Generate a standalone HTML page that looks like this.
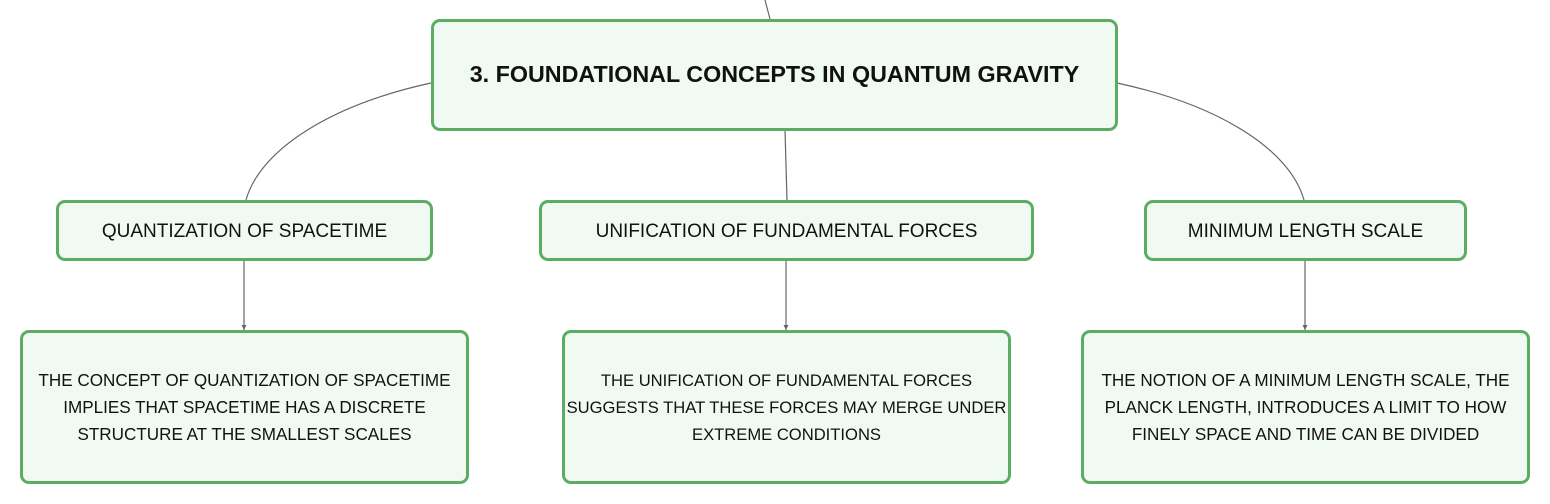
<!DOCTYPE html>
<html><head><style>
body{margin:0;width:1550px;height:504px;background:#fff;position:relative;overflow:hidden;font-family:"Liberation Sans",sans-serif;color:#111}
.b{position:absolute;box-sizing:border-box;border:3px solid #5cad62;border-radius:9px;background:#f1f9f3;display:flex;align-items:center;justify-content:center;text-align:center}
.t{font-weight:bold;font-size:23.3px}
.m{font-size:19px;padding-top:2px}
.d{font-size:17.1px;line-height:27px;white-space:nowrap}
svg{position:absolute;left:0;top:0}
</style></head><body>
<svg width="1550" height="504"><g fill="none" stroke="#666" stroke-width="1.2">
<path d="M765 0 L770 19"/>
<path d="M431 83 C330 105 260 150 246 200"/>
<path d="M785 130 L787 200"/>
<path d="M1117 83 C1220 105 1290 150 1304 200"/>
<path d="M244 260 V330"/><path d="M786 260 V330"/><path d="M1305 260 V330"/>
</g>
<g fill="#666"><path d="M241.5 325 L246.5 325 L244 330Z"/><path d="M783.5 325 L788.5 325 L786 330Z"/><path d="M1302.5 325 L1307.5 325 L1305 330Z"/></g></svg>
<div class="b t" style="left:431px;top:19px;width:687px;height:112px;padding-bottom:2px">3. FOUNDATIONAL CONCEPTS IN QUANTUM GRAVITY</div>
<div class="b m" style="left:56px;top:200px;width:377px;height:61px">QUANTIZATION OF SPACETIME</div>
<div class="b m" style="left:539px;top:200px;width:495px;height:61px">UNIFICATION OF FUNDAMENTAL FORCES</div>
<div class="b m" style="left:1144px;top:200px;width:323px;height:61px">MINIMUM LENGTH SCALE</div>
<div class="b d" style="left:20px;top:330px;width:449px;height:154px">THE CONCEPT OF QUANTIZATION OF SPACETIME<br>IMPLIES THAT SPACETIME HAS A DISCRETE<br>STRUCTURE AT THE SMALLEST SCALES</div>
<div class="b d" style="left:562px;top:330px;width:449px;height:154px;font-size:16.6px">THE UNIFICATION OF FUNDAMENTAL FORCES<br>SUGGESTS THAT THESE FORCES MAY MERGE UNDER<br>EXTREME CONDITIONS</div>
<div class="b d" style="left:1081px;top:330px;width:449px;height:154px">THE NOTION OF A MINIMUM LENGTH SCALE, THE<br>PLANCK LENGTH, INTRODUCES A LIMIT TO HOW<br>FINELY SPACE AND TIME CAN BE DIVIDED</div>
</body></html>
